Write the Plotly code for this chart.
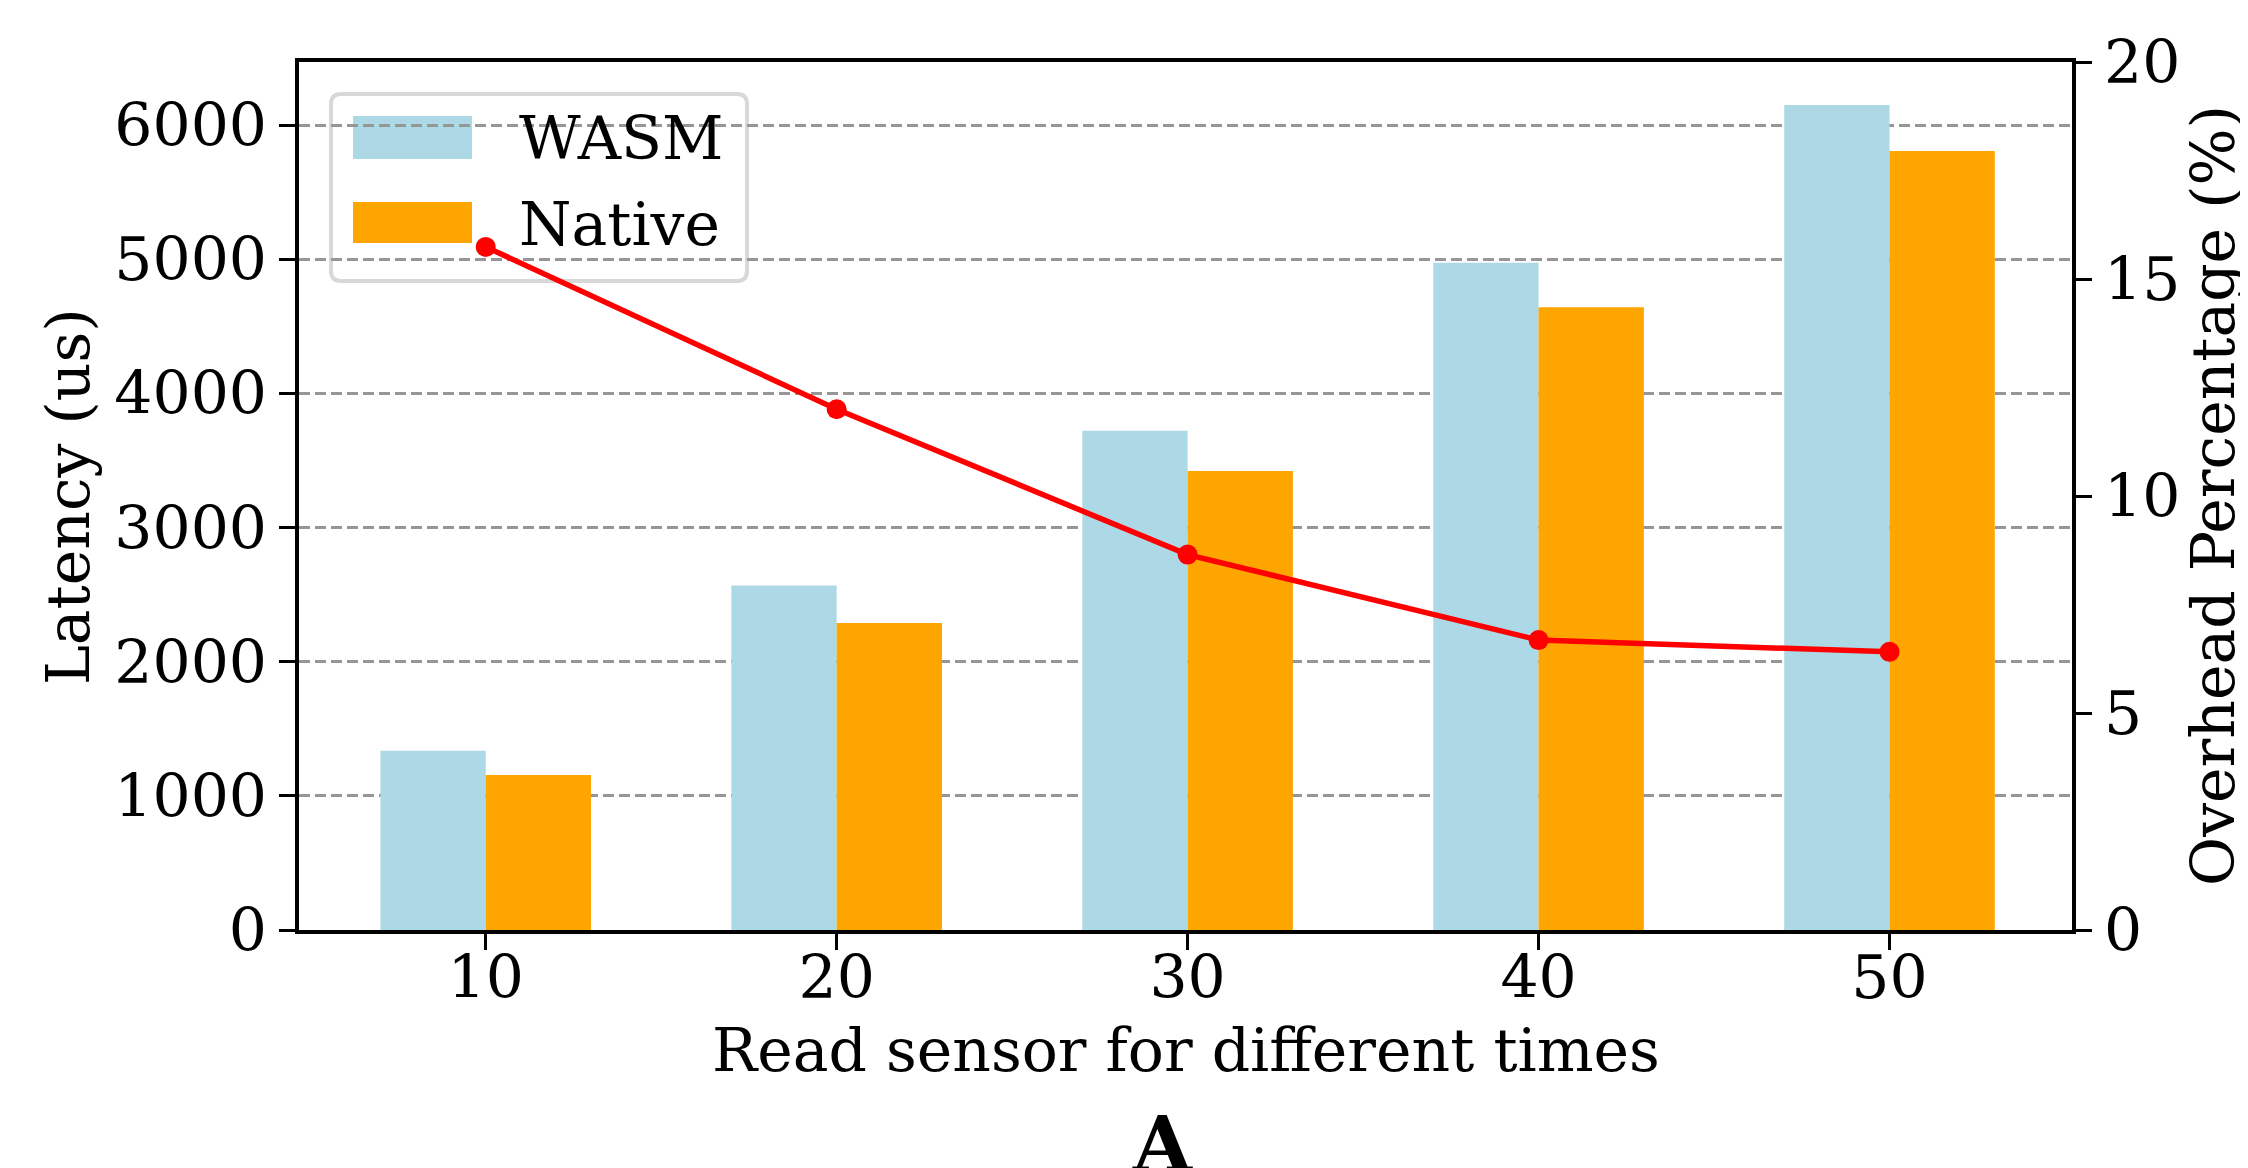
import plotly.graph_objects as go

categories = ["10", "20", "30", "40", "50"]
wasm_latency = [1337, 2567, 3722, 4973, 6150]
native_latency = [1155, 2289, 3422, 4642, 5807]
overhead_pct = [15.74, 12.0, 8.65, 6.68, 6.41]

# page body has an 8px default margin: figure coords = screen coords - OFF
OFF = 8
W, H = 2248 - OFF, 1168 - OFF
L, R, T, B = 299 - OFF, 2072 - OFF, 62 - OFF, 930 - OFF
PW, PH = R - L, B - T

def px(x):  # screen x -> paper
    return (x - OFF - L) / PW

def py(y):  # screen y -> paper
    return (B - (y - OFF)) / PH

FONT = "DejaVu Serif"
FS = 60

fig = go.Figure()
fig.add_trace(go.Bar(x=categories, y=wasm_latency, name="WASM",
                     marker=dict(color="#ADD8E6", line=dict(width=0)), showlegend=False))
fig.add_trace(go.Bar(x=categories, y=native_latency, name="Native",
                     marker=dict(color="#FFA500", line=dict(width=0)), showlegend=False))
fig.add_trace(go.Scatter(x=categories, y=overhead_pct, yaxis="y2", mode="lines+markers",
                         line=dict(color="#FF0000", width=5.5),
                         marker=dict(color="#FF0000", size=20), showlegend=False))

# custom legend (matplotlib style)
shapes = []
x0, x1, y0, y1 = px(331), px(747), py(281), py(94)
rx, ry = 10 / PW, 10 / PH
path = (f"M {x0+rx},{y0} L {x1-rx},{y0} Q {x1},{y0} {x1},{y0+ry} "
        f"L {x1},{y1-ry} Q {x1},{y1} {x1-rx},{y1} L {x0+rx},{y1} "
        f"Q {x0},{y1} {x0},{y1-ry} L {x0},{y0+ry} Q {x0},{y0} {x0+rx},{y0} Z")
shapes.append(dict(type="path", xref="paper", yref="paper", path=path,
                   fillcolor="rgba(255,255,255,0.8)", line=dict(color="#D8D8D8", width=4),
                   layer="between"))
shapes.append(dict(type="rect", xref="paper", yref="paper", x0=px(353), x1=px(472),
                   y0=py(159), y1=py(116), fillcolor="#ADD8E6", line=dict(width=0), layer="between"))
shapes.append(dict(type="rect", xref="paper", yref="paper", x0=px(353), x1=px(472),
                   y0=py(243), y1=py(202), fillcolor="#FFA500", line=dict(width=0), layer="between"))

tf = dict(family=FONT, size=FS, color="black")
annotations = [
    dict(text="WASM", xref="paper", yref="paper", x=px(517), y=py(138), xanchor="left",
         yanchor="middle", showarrow=False, font=tf),
    dict(text="Native", xref="paper", yref="paper", x=px(517), y=py(224), xanchor="left",
         yanchor="middle", showarrow=False, font=tf),
    dict(text="Read sensor for different times", xref="paper", yref="paper",
         x=px(1186), y=py(1050), xanchor="center", yanchor="middle", showarrow=False, font=tf),
    dict(text="Latency (us)", xref="paper", yref="paper", textangle=-90,
         x=px(68), y=py(496), xanchor="center", yanchor="middle", showarrow=False, font=tf),
    dict(text="Overhead Percentage (%)", xref="paper", yref="paper", textangle=-90,
         x=px(2213), y=py(496), xanchor="center", yanchor="middle", showarrow=False, font=tf),
    dict(text="<b>A</b>", xref="paper", yref="paper", x=px(1162), y=py(1098), xanchor="center",
         yanchor="top", showarrow=False, font=dict(family=FONT, size=76, color="black")),
]

axis_common = dict(showline=True, linecolor="black", linewidth=4, ticks="outside",
                   ticklen=16, tickwidth=2.5, tickcolor="black", automargin=False,
                   tickfont=tf)

fig.update_layout(
    width=W, height=H,
    margin=dict(l=L, r=W - R, t=T, b=H - B, pad=0, autoexpand=False),
    paper_bgcolor="white", plot_bgcolor="white",
    barmode="group", bargap=0.4, bargroupgap=0,
    font=tf,
    shapes=shapes, annotations=annotations,
    xaxis=dict(**axis_common, mirror=True, range=[-0.532, 4.52], showgrid=False,
               ticklabelstandoff=-24),
    yaxis=dict(**axis_common, range=[0, 6470], dtick=1000, showgrid=True,
               gridcolor="rgb(150,150,150)", gridwidth=2.5, griddash="11px,5px",
               zeroline=False),
    yaxis2=dict(**axis_common, overlaying="y", side="right", range=[0, 20], dtick=5,
                showgrid=False, zeroline=False),
)

fig.write_html("out.html")
